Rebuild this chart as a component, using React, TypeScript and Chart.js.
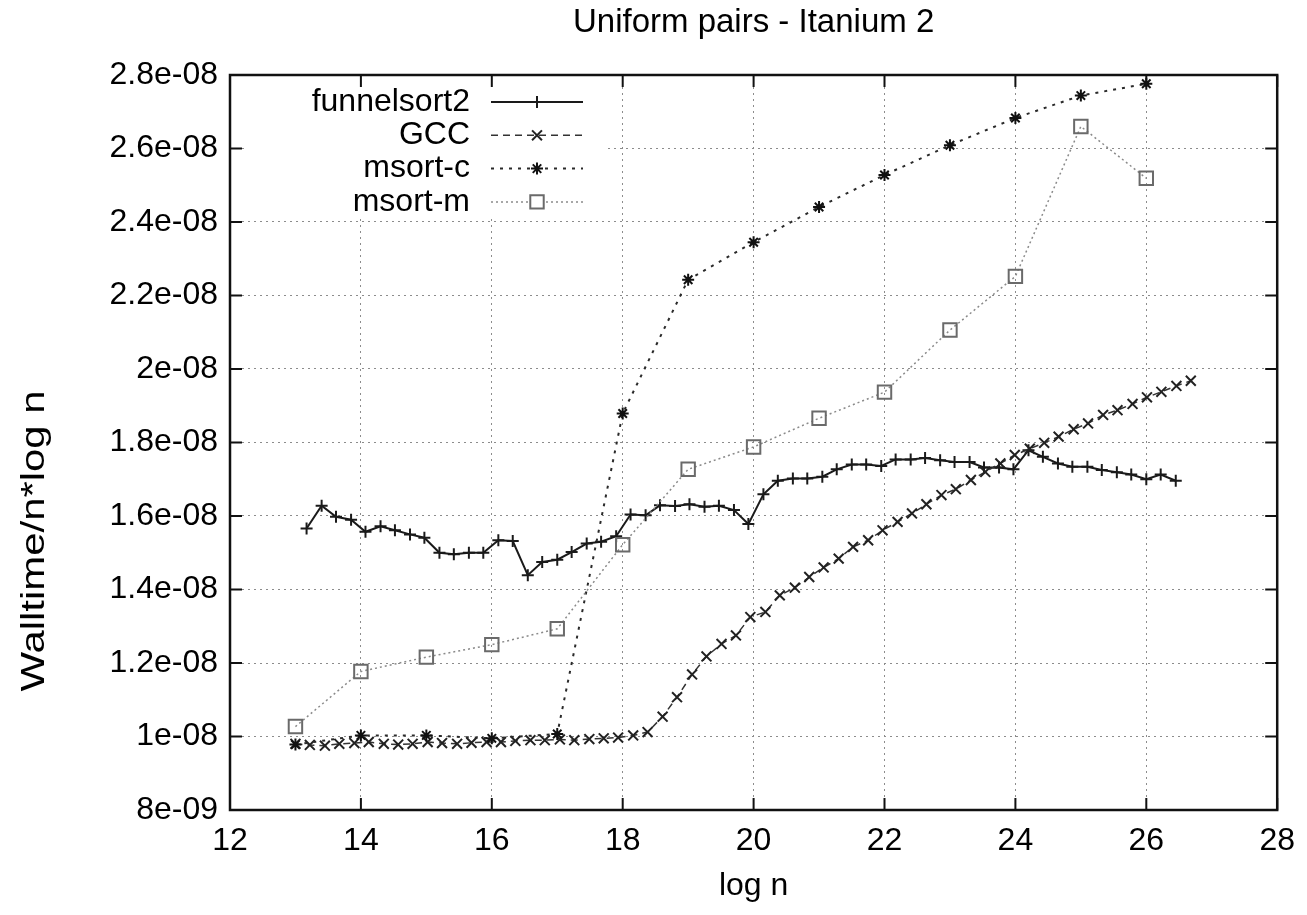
import React, { useEffect, useRef } from 'react';
import { Chart, registerables } from 'chart.js';

Chart.register(...registerables);

// ---------- data (y values in units of 1e-08) ----------
const seriesNames = ['funnelsort2', 'GCC', 'msort-c', 'msort-m'];

const funnelX = [
  13.17, 13.40, 13.62, 13.85, 14.07, 14.30, 14.52, 14.75, 14.97, 15.20,
  15.42, 15.65, 15.87, 16.10, 16.32, 16.55, 16.77, 17.00, 17.22, 17.45,
  17.67, 17.90, 18.12, 18.35, 18.57, 18.80, 19.02, 19.25, 19.47, 19.70,
  19.92, 20.15, 20.37, 20.60, 20.82, 21.05, 21.27, 21.50, 21.72, 21.95,
  22.17, 22.40, 22.62, 22.85, 23.07, 23.30, 23.52, 23.75, 23.97, 24.20,
  24.42, 24.65, 24.87, 25.10, 25.32, 25.55, 25.77, 26.00, 26.22, 26.45,
];
const funnelY = [
  1.566, 1.628, 1.598, 1.590, 1.557, 1.572, 1.561, 1.550, 1.541, 1.500,
  1.496, 1.500, 1.500, 1.534, 1.532, 1.439, 1.475, 1.481, 1.502, 1.525,
  1.530, 1.545, 1.604, 1.602, 1.629, 1.627, 1.632, 1.625, 1.628, 1.616,
  1.578, 1.659, 1.696, 1.702, 1.702, 1.707, 1.727, 1.740, 1.740, 1.736,
  1.754, 1.754, 1.758, 1.752, 1.747, 1.747, 1.732, 1.732, 1.727, 1.779,
  1.761, 1.743, 1.734, 1.734, 1.725, 1.719, 1.713, 1.700, 1.713, 1.696,
];

const gccX = [
  13.00, 13.22, 13.45, 13.67, 13.90, 14.12, 14.35, 14.57, 14.79, 15.02,
  15.24, 15.47, 15.69, 15.92, 16.14, 16.36, 16.59, 16.81, 17.04, 17.26,
  17.49, 17.71, 17.93, 18.16, 18.38, 18.61, 18.83, 19.06, 19.28, 19.51,
  19.73, 19.95, 20.18, 20.40, 20.63, 20.85, 21.07, 21.30, 21.52, 21.75,
  21.97, 22.20, 22.42, 22.64, 22.87, 23.09, 23.32, 23.54, 23.77, 23.99,
  24.22, 24.44, 24.66, 24.89, 25.11, 25.34, 25.56, 25.79, 26.01, 26.23,
  26.46, 26.68,
];
const gccY = [
  0.980, 0.977, 0.975, 0.980, 0.982, 0.985, 0.980, 0.978, 0.980, 0.985,
  0.982, 0.980, 0.983, 0.985, 0.985, 0.988, 0.990, 0.990, 0.992, 0.990,
  0.993, 0.995, 0.997, 1.003, 1.012, 1.054, 1.107, 1.169, 1.218, 1.252,
  1.275, 1.325, 1.339, 1.384, 1.405, 1.434, 1.460, 1.484, 1.516, 1.534,
  1.561, 1.584, 1.607, 1.632, 1.657, 1.673, 1.698, 1.720, 1.743, 1.766,
  1.783, 1.799, 1.816, 1.836, 1.852, 1.875, 1.888, 1.905, 1.923, 1.938,
  1.954, 1.968,
];

const msortX = [13, 14, 15, 16, 17, 18, 19, 20, 21, 22, 23, 24, 25, 26];
const msortCY = [0.978, 1.003, 1.003, 0.995, 1.007, 1.879, 2.243, 2.345, 2.441, 2.528, 2.609, 2.683, 2.744, 2.776];
const msortMY = [1.027, 1.177, 1.216, 1.250, 1.293, 1.522, 1.727, 1.788, 1.866, 1.937, 2.106, 2.252, 2.660, 2.519];

const xTickValues = [12, 14, 16, 18, 20, 22, 24, 26, 28];
const yTickValues = [0.8, 1.0, 1.2, 1.4, 1.6, 1.8, 2.0, 2.2, 2.4, 2.6, 2.8];
const yTickLabels = ['8e-09', '1e-08', '1.2e-08', '1.4e-08', '1.6e-08', '1.8e-08', '2e-08', '2.2e-08', '2.4e-08', '2.6e-08', '2.8e-08'];

const titleText = 'Uniform pairs - Itanium 2';
const xTitle = 'log n';
const yTitle = 'Walltime/n*log n';

// ---------- styles ----------
const FONT = '"Liberation Sans", Arial, sans-serif';
const styles = [
  { color: '#1a1a1a', dash: [] as number[], width: 2, point: 'cross', radius: 6, pcolor: '#1a1a1a' },
  { color: '#333333', dash: [7, 5], width: 1.5, point: 'crossRot', radius: 7, pcolor: '#222222' },
  { color: '#2a2a2a', dash: [3, 6], width: 2, point: 'star', radius: 6, pcolor: '#111111' },
  { color: '#8a8a8a', dash: [2, 3], width: 1.5, point: 'rect', radius: 9.5, pcolor: '#6a6a6a' },
];

function drawMarker(ctx: CanvasRenderingContext2D, kind: string, x: number, y: number, r: number) {
  ctx.beginPath();
  if (kind === 'cross' || kind === 'star') {
    ctx.moveTo(x - r, y); ctx.lineTo(x + r, y);
    ctx.moveTo(x, y - r); ctx.lineTo(x, y + r);
  }
  if (kind === 'crossRot' || kind === 'star') {
    const o = r * Math.SQRT1_2;
    ctx.moveTo(x - o, y - o); ctx.lineTo(x + o, y + o);
    ctx.moveTo(x - o, y + o); ctx.lineTo(x + o, y - o);
  }
  if (kind === 'rect') {
    const s = r * Math.SQRT1_2;
    ctx.rect(x - s, y - s, 2 * s, 2 * s);
  }
  ctx.stroke();
}

const gnuplotDecor = {
  id: 'gnuplotDecor',
  beforeDatasetsDraw(chart: any) {
    const ctx = chart.ctx as CanvasRenderingContext2D;
    ctx.save();
    ctx.fillStyle = '#ffffff';
    ctx.fillRect(248, 87, 356, 128);
    ctx.restore();
  },
  afterDatasetsDraw(chart: any) {
    const ctx = chart.ctx as CanvasRenderingContext2D;
    const a = chart.chartArea;
    const xs = chart.scales.x;
    const ys = chart.scales.y;
    ctx.save();
    // inner tick marks
    ctx.strokeStyle = '#111';
    ctx.lineWidth = 2;
    ctx.setLineDash([]);
    const tl = 12;
    ctx.beginPath();
    xTickValues.forEach((v) => {
      const px = xs.getPixelForValue(v);
      ctx.moveTo(px, a.bottom); ctx.lineTo(px, a.bottom - tl);
      ctx.moveTo(px, a.top); ctx.lineTo(px, a.top + tl);
    });
    yTickValues.forEach((v) => {
      const py = ys.getPixelForValue(v);
      ctx.moveTo(a.left, py); ctx.lineTo(a.left + tl, py);
      ctx.moveTo(a.right, py); ctx.lineTo(a.right - tl, py);
    });
    ctx.stroke();
    // frame
    ctx.lineWidth = 2.5;
    ctx.strokeRect(a.left, a.top, a.right - a.left, a.bottom - a.top);

    // key
    ctx.font = `32px ${FONT}`;
    ctx.textAlign = 'right';
    ctx.textBaseline = 'middle';
    ctx.fillStyle = '#000';
    seriesNames.forEach((name, i) => {
      const y = 102 + i * 33.3;
      ctx.fillText(name, 470, y);
      const st = styles[i];
      ctx.strokeStyle = st.color;
      ctx.lineWidth = st.width;
      ctx.setLineDash(st.dash);
      ctx.beginPath();
      ctx.moveTo(491, y); ctx.lineTo(583, y);
      ctx.stroke();
      ctx.setLineDash([]);
      ctx.strokeStyle = st.pcolor;
      ctx.lineWidth = 2;
      if (st.point === 'rect') {
        ctx.fillStyle = '#fff';
        const s = st.radius * Math.SQRT1_2;
        ctx.fillRect(537 - s, y - s, 2 * s, 2 * s);
        ctx.fillStyle = '#000';
      }
      drawMarker(ctx, st.point, 537, y, st.radius);
    });
    ctx.restore();
  },
  afterDraw(chart: any) {
    const ctx = chart.ctx as CanvasRenderingContext2D;
    const a = chart.chartArea;
    ctx.save();
    ctx.font = `33px ${FONT}`;
    ctx.fillStyle = '#000';
    ctx.textAlign = 'center';
    ctx.textBaseline = 'middle';
    ctx.fillText(titleText, (a.left + a.right) / 2, 23);
    // y-axis label (rotated, stretched along its length like the reference)
    ctx.translate(35, 541);
    ctx.rotate(-Math.PI / 2);
    ctx.scale(1.27, 1);
    ctx.fillText(yTitle, 0, 0);
    ctx.restore();
  },
};

export default function App() {
  const canvasRef = useRef<HTMLCanvasElement | null>(null);

  useEffect(() => {
    if (!canvasRef.current) return;
    const mk = (xs: number[], ys: number[]) => xs.map((x, i) => ({ x, y: ys[i] }));
    const allData = [mk(funnelX, funnelY), mk(gccX, gccY), mk(msortX, msortCY), mk(msortX, msortMY)];
    const datasets = seriesNames.map((name, i) => {
      const st = styles[i];
      return {
        label: name,
        data: allData[i],
        borderColor: st.color,
        borderWidth: st.width,
        borderDash: st.dash,
        pointStyle: st.point,
        pointRadius: st.radius,
        pointBorderColor: st.pcolor,
        pointBorderWidth: 2,
        pointBackgroundColor: st.point === 'rect' ? 'rgba(255,255,255,0)' : st.pcolor,
        showLine: true,
        fill: false,
        tension: 0,
        order: 4 - i,
      };
    });

    const tickFont = { family: FONT, size: 32 };
    const chart = new Chart(canvasRef.current, {
      type: 'line',
      data: { datasets } as any,
      plugins: [gnuplotDecor],
      options: {
        animation: false,
        responsive: true,
        maintainAspectRatio: false,
        layout: { padding: { top: 75, right: 24, left: 0, bottom: 0 } },
        plugins: {
          legend: { display: false },
          title: { display: false },
          tooltip: { enabled: false },
        },
        scales: {
          x: {
            type: 'linear',
            min: 12,
            max: 28,
            afterBuildTicks: (s: any) => { s.ticks = xTickValues.map((v) => ({ value: v })); },
            afterFit: (s: any) => { s.height = 105; },
            grid: { color: '#8c8c8c', lineWidth: 1, drawTicks: false },
            border: { display: false, dash: [2, 4] },
            ticks: {
              font: tickFont,
              color: '#000',
              padding: 12,
              maxRotation: 0,
              autoSkip: false,
              callback: (v: any) => String(v),
            },
            title: {
              display: true,
              text: xTitle,
              font: { family: FONT, size: 32 },
              color: '#000',
              padding: { top: 0, bottom: 10 },
            },
          },
          y: {
            type: 'linear',
            min: 0.8,
            max: 2.8,
            afterBuildTicks: (s: any) => { s.ticks = yTickValues.map((v) => ({ value: v })); },
            afterFit: (s: any) => { s.width = 230; },
            grid: { color: '#8c8c8c', lineWidth: 1, drawTicks: false },
            border: { display: false, dash: [2, 4] },
            ticks: {
              font: tickFont,
              color: '#000',
              padding: 12,
              autoSkip: false,
              callback: (_v: any, idx: number) => yTickLabels[idx],
            },
            title: { display: false },
          },
        },
      } as any,
    });
    return () => chart.destroy();
  }, []);

  return (
    <div style={{ position: 'fixed', left: 0, top: 0, width: 1307, height: 915, background: '#fff' }}>
      <canvas ref={canvasRef} />
    </div>
  );
}
